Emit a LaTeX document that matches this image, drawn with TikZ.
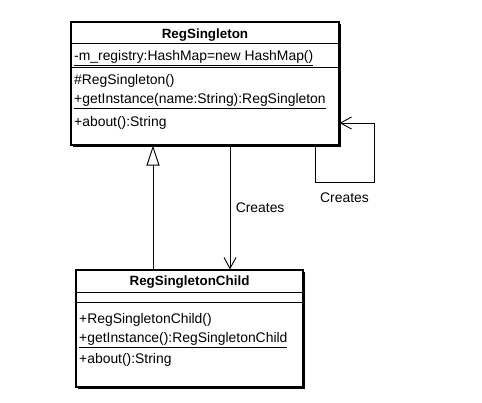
\documentclass[tikz,border=0pt]{standalone}
\usepackage{fontspec}
\setmainfont{Liberation Sans}
\usetikzlibrary{arrows.meta,positioning,shadows}

\begin{document}
\begin{tikzpicture}[x=1pt, y=-1pt,
        every node/.style={font=\fontsize{13.9}{16}\selectfont},
        classbox/.style={draw, line width=1.2pt, fill=white, inner sep=0pt,
            drop shadow={shadow xshift=1.6pt, shadow yshift=-1.6pt, fill=black, opacity=1}},
        classname/.style={inner sep=0pt, font=\fontsize{13.4}{16}\selectfont\bfseries},
        member/.style={anchor=west, inner sep=0pt},
        compart/.style={line width=1pt},
        link/.style={line width=0.9pt}]
    \useasboundingbox (0,0) rectangle (482,402);

    % RegSingleton
    \node[classbox, minimum width=268pt, minimum height=123pt] (reg) at (205,83.5) {};
    \node[classname] (regname) at (205,35) {RegSingleton};
    \draw[compart] ([yshift=-22pt]reg.north west) -- ([yshift=-22pt]reg.north east);
    \draw[compart] ([yshift=-46pt]reg.north west) -- ([yshift=-46pt]reg.north east);
    \node[member] (regattr) at (74,58) {\underline{-m\_registry:HashMap=new HashMap()}};
    \node[member] (regctor) at (74,81) {\#RegSingleton()};
    \node[member] (reginst) at (74,101) {\underline{+getInstance(name:String):RegSingleton}};
    \node[member] (regabout) at (74,123) {+about():String};

    % RegSingletonChild
    \node[classbox, minimum width=227pt, minimum height=117pt] (child) at (189.5,328.5) {};
    \node[classname] (childname) at (189.5,282) {RegSingletonChild};
    \draw[compart] ([yshift=-23pt]child.north west) -- ([yshift=-23pt]child.north east);
    \draw[compart] ([yshift=-33pt]child.north west) -- ([yshift=-33pt]child.north east);
    \node[member] (childctor) at (79,320) {+RegSingletonChild()};
    \node[member] (childinst) at (79,340) {\underline{+getInstance():RegSingletonChild}};
    \node[member] (childabout) at (79,360) {+about():String};

    % links
    \draw[link, -{Triangle[open, length=20pt, width=13pt]}]
        ([xshift=-36.5pt]child.north) -- ([xshift=-52pt]reg.south);
    \draw[link, -{Straight Barb[length=11pt, width=12pt]}]
        ([xshift=25pt]reg.south) -- ([xshift=40.5pt]child.north)
        node[midway, right=2pt] (createslbl) {Creates};
    \draw[link, -{Straight Barb[length=11pt, width=12pt]}]
        ([xshift=110pt]reg.south) -- ++(0,37) -- ++(59,0)
        node[midway, below=6pt] (selflbl) {Creates}
        |- ([yshift=-39.5pt]reg.east);
\end{tikzpicture}
\end{document}
